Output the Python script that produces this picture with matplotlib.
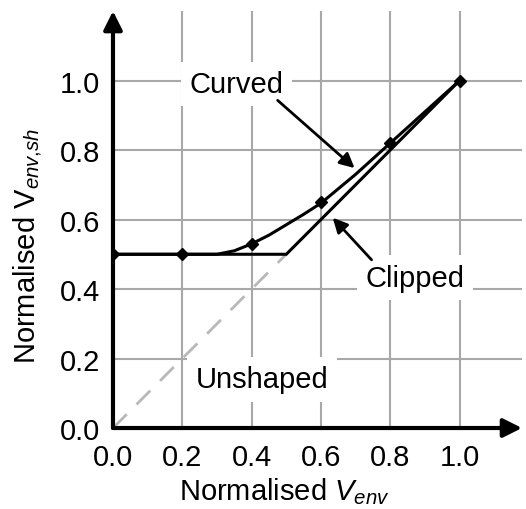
import matplotlib
matplotlib.use('Agg')
import matplotlib.pyplot as plt

plt.rcParams['font.family'] = ['Liberation Sans', 'DejaVu Sans']
plt.rcParams['mathtext.fontset'] = 'custom'
plt.rcParams['mathtext.rm'] = 'Liberation Sans'
plt.rcParams['mathtext.it'] = 'Liberation Sans:italic'

# curved shaping
curve_x = [0.0, 0.2, 0.3, 0.35, 0.4, 0.45, 0.5, 0.55, 0.6, 0.7, 0.8, 0.9, 1.0]
curve_y = [0.5, 0.5, 0.5, 0.51, 0.53, 0.555, 0.585, 0.615, 0.647, 0.73, 0.82, 0.91, 1.0]
marker_x = [0.0, 0.2, 0.4, 0.6, 0.8, 1.0]
marker_y = [0.5, 0.5, 0.53, 0.65, 0.82, 1.0]

# clipped shaping
clip_x = [0.0, 0.5, 1.0]
clip_y = [0.5, 0.5, 1.0]

# unshaped
uns_x = [0.0, 0.5]
uns_y = [0.0, 0.5]

ticks = [0.0, 0.2, 0.4, 0.6, 0.8, 1.0]
tick_labels = ['0.0', '0.2', '0.4', '0.6', '0.8', '1.0']

FS = 21

fig = plt.figure(figsize=(5.26, 5.10), dpi=100)
ax = fig.add_axes([0.2148, 0.1588, 0.7776, 0.8176])
ax.set_xlim(0, 1.18)
ax.set_ylim(0, 1.2)

for t in ticks[1:]:
    ax.axvline(t, color='#a8a8a8', lw=1.5, zorder=1)
    ax.axhline(t, color='#a8a8a8', lw=1.5, zorder=1)

ax.plot(uns_x, uns_y, color='#b8b8b8', lw=2, dashes=(7, 5), zorder=2)
ax.plot(clip_x, clip_y, color='black', lw=2.2, zorder=3)
ax.plot(curve_x, curve_y, color='black', lw=2.2, zorder=3)
ax.plot(marker_x, marker_y, ls='none', marker='D', ms=6, color='black', zorder=4)

for s in ax.spines.values():
    s.set_visible(False)

# axis arrows
ax.annotate('', xy=(1.18, 0), xytext=(0, 0),
            arrowprops=dict(arrowstyle='-|>', lw=3, color='black',
                            mutation_scale=28, shrinkA=0, shrinkB=0),
            annotation_clip=False, zorder=5)
ax.annotate('', xy=(0, 1.2), xytext=(0, 0),
            arrowprops=dict(arrowstyle='-|>', lw=3, color='black',
                            mutation_scale=28, shrinkA=0, shrinkB=0),
            annotation_clip=False, zorder=5)

ax.set_xticks(ticks)
ax.set_xticklabels(tick_labels)
ax.set_yticks(ticks)
ax.set_yticklabels(tick_labels)
ax.tick_params(length=0, labelsize=FS)
ax.tick_params(axis='x', pad=11)
ax.tick_params(axis='y', pad=9)

ax.set_xlabel('Normalised $V_{env}$', fontsize=FS)
ax.set_ylabel('Normalised V$_{env{,}sh}$', fontsize=FS)
ax.xaxis.set_label_coords(0.42, -0.112)
ax.yaxis.set_label_coords(-0.168, 0.44)

box = dict(facecolor='white', edgecolor='none', pad=6)
ax.text(0.357, 0.99, 'Curved', fontsize=FS, ha='center', va='center', bbox=box, zorder=6)
ax.text(0.87, 0.433, 'Clipped', fontsize=FS, ha='center', va='center', bbox=box, zorder=6)
ax.text(0.43, 0.14, 'Unshaped', fontsize=FS, ha='center', va='center', bbox=box, zorder=6)

ax.annotate('', xy=(0.697, 0.748), xytext=(0.475, 0.943),
            arrowprops=dict(arrowstyle='-|>', lw=2, color='black',
                            mutation_scale=22, shrinkA=0, shrinkB=0), zorder=7)
ax.annotate('', xy=(0.634, 0.605), xytext=(0.746, 0.484),
            arrowprops=dict(arrowstyle='-|>', lw=2, color='black',
                            mutation_scale=22, shrinkA=0, shrinkB=0), zorder=7)

fig.savefig('out.png', dpi=100)
